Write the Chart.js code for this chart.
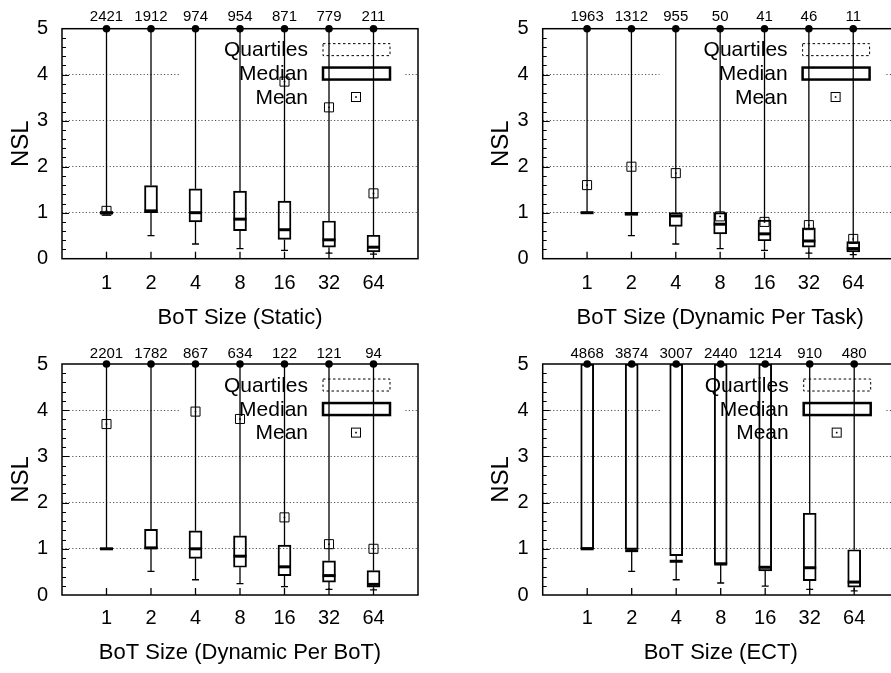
<!DOCTYPE html>
<html>
<head>
<meta charset="utf-8">
<script src="https://cdn.jsdelivr.net/npm/chart.js@4.4.1/dist/chart.umd.min.js"></script>
<style>
  html, body { margin: 0; padding: 0; background: #fff; overflow: hidden; width: 891px; height: 673px; }
  body { position: relative; }
  canvas { position: absolute; }
</style>
</head>
<body>
<canvas id="pStatic" width="445" height="330" style="left:0;top:0"></canvas>
<canvas id="pTask" width="460" height="330" style="left:445px;top:0"></canvas>
<canvas id="pBot" width="445" height="343" style="left:0;top:330px"></canvas>
<canvas id="pEct" width="460" height="343" style="left:445px;top:330px"></canvas>
<script>
// BoT sizes on the x axis
const botSizes = ['1', '2', '4', '8', '16', '32', '64'];
const nslMax = 5;
const keyLabels = ['Quartiles', 'Median', 'Mean'];

// Static
const staticCount  = [2421, 1912, 974, 954, 871, 779, 211];
const staticLow    = [0.97, 0.50, 0.32, 0.22, 0.18, 0.12, 0.10];
const staticQ1     = [0.97, 1.00, 0.80, 0.61, 0.42, 0.25, 0.15];
const staticMedian = [1.00, 1.04, 1.00, 0.86, 0.63, 0.41, 0.25];
const staticQ3     = [1.02, 1.59, 1.52, 1.47, 1.25, 0.82, 0.51];
const staticMean   = [1.04, null, null, null, 3.85, 3.29, 1.42];

// Dynamic per task
const taskCount  = [1963, 1312, 955, 50, 41, 46, 11];
const taskLow    = [1.00, 0.50, 0.32, 0.22, 0.18, 0.12, 0.09];
const taskQ1     = [1.00, 0.94, 0.70, 0.54, 0.39, 0.25, 0.15];
const taskMedian = [1.00, 0.98, 0.93, 0.75, 0.54, 0.385, 0.22];
const taskQ3     = [1.00, 1.01, 1.00, 1.00, 0.84, 0.67, 0.37];
const taskMean   = [1.60, 2.00, 1.86, 0.92, 0.80, 0.73, 0.43];

// Dynamic per BoT
const botCount  = [2201, 1782, 867, 634, 122, 121, 94];
const botLow    = [1.00, 0.51, 0.33, 0.245, 0.18, 0.12, 0.11];
const botQ1     = [1.00, 1.00, 0.79, 0.60, 0.42, 0.28, 0.17];
const botMedian = [1.00, 1.02, 1.00, 0.84, 0.61, 0.42, 0.23];
const botQ3     = [1.00, 1.42, 1.39, 1.28, 1.08, 0.74, 0.53];
const botMean   = [3.70, null, 3.97, 3.81, 1.68, 1.10, 1.00];

// ECT
const ectCount  = [4868, 3874, 3007, 2440, 1214, 910, 480];
const ectLow    = [1.00, 0.51, 0.33, 0.26, 0.19, 0.12, 0.09];
const ectQ1     = [1.00, 0.99, 0.85, 0.67, 0.52, 0.31, 0.17];
const ectMedian = [1.00, 0.96, 0.73, 0.67, 0.60, 0.59, 0.28];
const ectQ3     = [5.00, 5.00, 5.00, 5.00, 5.00, 1.77, 0.98];
const ectMean   = [null, null, null, null, null, null, null];

const FONT = '"Liberation Sans", Arial, Helvetica, sans-serif';
Chart.defaults.font.family = FONT;
Chart.defaults.color = '#000';

const BOX_INDEX = 3;

// Whiskers, medians, frame, inner ticks, key and sample counts
const boxPlot = {
  id: 'boxPlot',
  beforeDatasetsDraw(chart) {
    const o = chart.options.plugins.boxPlot;
    const { ctx, chartArea: a, scales: { x, y } } = chart;
    const h = a.bottom - a.top;
    ctx.save();

    // key background hides the grid line behind it
    ctx.fillStyle = '#fff';
    ctx.fillRect(a.right - 238, a.top + 8, 225, 74);

    const rows = [0.091, 0.195, 0.297].map(f => a.top + f * h);
    ctx.fillStyle = '#000';
    ctx.font = '21px ' + FONT;
    ctx.textAlign = 'right';
    ctx.textBaseline = 'middle';
    keyLabels.forEach((t, i) => ctx.fillText(t, a.right - 110, rows[i] + 1));
    ctx.strokeStyle = '#000';
    ctx.lineWidth = 1;
    ctx.setLineDash([2.5, 2.5]);
    ctx.strokeRect(a.right - 95, rows[0] - 6, 67, 12);
    ctx.setLineDash([]);
    ctx.lineWidth = 2.5;
    ctx.strokeRect(a.right - 95, rows[1] - 6, 67, 12);
    ctx.lineWidth = 1;
    ctx.strokeRect(a.right - 62 - 4.5, rows[2] - 4.5, 9, 9);
    ctx.fillRect(a.right - 62 - 0.8, rows[2] - 0.8, 1.6, 1.6);

    // frame
    ctx.lineWidth = 1.5;
    ctx.strokeRect(a.left, a.top, a.right - a.left, a.bottom - a.top);

    // inner y ticks: minor every 0.2, major at integers
    ctx.lineWidth = 1;
    for (let k = 1; k < nslMax * 5; k++) {
      const py = Math.round(y.getPixelForValue(k / 5)) + 0.5;
      const len = k % 5 === 0 ? 7 : 4;
      ctx.beginPath();
      ctx.moveTo(a.left, py);
      ctx.lineTo(a.left + len, py);
      ctx.stroke();
    }
    // inner x ticks
    ctx.lineWidth = 1.3;
    botSizes.forEach((_, i) => {
      const px = x.getPixelForValue(i + 1);
      ctx.beginPath();
      ctx.moveTo(px, a.bottom);
      ctx.lineTo(px, a.bottom - 7);
      ctx.stroke();
    });

    // whiskers: lower one ends in a cap, upper one runs off the top
    ctx.lineWidth = 1.3;
    o.low.forEach((v, i) => {
      const px = x.getPixelForValue(i + 1);
      const pLow = y.getPixelForValue(v);
      const pQ1 = y.getPixelForValue(o.q1[i]);
      const pQ3 = y.getPixelForValue(o.q3[i]);
      const pTop = y.getPixelForValue(nslMax);
      ctx.beginPath();
      ctx.moveTo(px, pLow);
      ctx.lineTo(px, pQ1);
      if (pQ3 > pTop) {
        ctx.moveTo(px, pQ3);
        ctx.lineTo(px, pTop);
      }
      ctx.moveTo(px - 3.5, pLow);
      ctx.lineTo(px + 3.5, pLow);
      ctx.stroke();
    });
    ctx.restore();
  },
  afterDatasetDraw(chart, args) {
    if (args.index !== BOX_INDEX) return;
    const o = chart.options.plugins.boxPlot;
    const { ctx, scales: { x, y } } = chart;
    ctx.save();
    ctx.strokeStyle = '#000';
    ctx.lineWidth = 3;
    o.median.forEach((v, i) => {
      const px = x.getPixelForValue(i + 1);
      const py = y.getPixelForValue(v);
      ctx.beginPath();
      ctx.moveTo(px - 6.5, py);
      ctx.lineTo(px + 6.5, py);
      ctx.stroke();
    });
    ctx.restore();
  },
  afterDraw(chart) {
    const o = chart.options.plugins.boxPlot;
    const { ctx, chartArea: a, scales: { x } } = chart;
    ctx.save();
    ctx.fillStyle = '#000';
    ctx.font = '15px ' + FONT;
    ctx.textAlign = 'center';
    ctx.textBaseline = 'middle';
    o.counts.forEach((c, i) => {
      ctx.fillText(String(c), x.getPixelForValue(i + 1), a.top - o.countGap);
    });
    ctx.restore();
  }
};

function makePanel(id, title, counts, low, q1, median, q3, mean, geo) {
  const cv = document.getElementById(id);
  const W = cv.width, H = cv.height;
  const pts = arr => arr.map((v, i) => (v === null ? null : { x: i + 1, y: v })).filter(p => p);
  return new Chart(cv, {
    type: 'bar',
    data: {
      datasets: [
        { // markers where the whiskers leave the top of the range
          type: 'scatter',
          data: counts.map((_, i) => ({ x: i + 1, y: nslMax })),
          pointRadius: 3.8, pointStyle: 'circle',
          backgroundColor: '#000', borderWidth: 0, clip: false
        },
        { // centre dot of the mean marker
          type: 'scatter',
          data: pts(mean),
          pointRadius: 0.9, backgroundColor: '#000', borderWidth: 0
        },
        { // mean
          type: 'scatter',
          data: pts(mean),
          pointStyle: 'rect', pointRadius: 6.4,
          backgroundColor: 'rgba(0,0,0,0)', borderColor: '#000', borderWidth: 1
        },
        { // interquartile box
          type: 'bar',
          data: q1.map((v, i) => ({ x: i + 1, y: [v, q3[i]] })),
          barThickness: 13,
          backgroundColor: 'rgba(0,0,0,0)', borderColor: '#000', borderWidth: 1.3,
          borderSkipped: false
        }
      ]
    },
    options: {
      responsive: false,
      animation: false,
      devicePixelRatio: 1,
      events: [],
      layout: { padding: { left: 0, top: geo.top, right: W - geo.right, bottom: 0 } },
      plugins: {
        legend: { display: false },
        tooltip: { enabled: false },
        boxPlot: { counts, low, q1, q3, median, countGap: geo.countGap }
      },
      scales: {
        x: {
          type: 'linear', min: 0, max: 8, offset: false,
          afterBuildTicks: s => { s.ticks = botSizes.map((_, i) => ({ value: i + 1 })); },
          afterFit: s => { s.height = H - geo.bottom; },
          ticks: {
            autoSkip: false, maxRotation: 0, padding: geo.xTickPad,
            font: { size: 20 }, color: '#000',
            callback: v => botSizes[v - 1]
          },
          grid: { display: false, drawTicks: false },
          border: { display: false },
          title: {
            display: true, text: title, color: '#000',
            font: { size: 22, lineHeight: 1 },
            padding: { top: 0, bottom: geo.xTitlePad }
          }
        },
        y: {
          min: 0, max: nslMax,
          afterFit: s => { s.width = geo.left; },
          ticks: { stepSize: 1, padding: 14, font: { size: 20 }, color: '#000' },
          grid: {
            drawTicks: false, lineWidth: 1,
            color: c => (c.tick.value > 0 && c.tick.value < nslMax ? '#555' : 'rgba(0,0,0,0)')
          },
          border: { display: false, dash: [1.2, 2.2] },
          title: {
            display: true, text: 'NSL', color: '#000',
            font: { size: 24, lineHeight: 1 },
            padding: { top: geo.yTitlePad, bottom: 0 }
          }
        }
      }
    },
    plugins: [boxPlot]
  });
}

makePanel('pStatic', 'BoT Size (Static)', staticCount, staticLow, staticQ1, staticMedian, staticQ3, staticMean,
  { left: 62, right: 418, top: 28.7, bottom: 258.7, countGap: 11.4, xTickPad: 12.6, xTitlePad: 0.7, yTitlePad: 9.7 });
makePanel('pTask', 'BoT Size (Dynamic Per Task)', taskCount, taskLow, taskQ1, taskMedian, taskQ3, taskMean,
  { left: 97.7, right: 453.7, top: 28.7, bottom: 258.7, countGap: 11.4, xTickPad: 12.6, xTitlePad: 0.7, yTitlePad: 44.7 });
makePanel('pBot', 'BoT Size (Dynamic Per BoT)', botCount, botLow, botQ1, botMedian, botQ3, botMean,
  { left: 62, right: 418, top: 34, bottom: 265, countGap: 10.5, xTickPad: 11.3, xTitlePad: 8.7, yTitlePad: 9.7 });
makePanel('pEct', 'BoT Size (ECT)', ectCount, ectLow, ectQ1, ectMedian, ectQ3, ectMean,
  { left: 97.7, right: 453.7, top: 34, bottom: 265, countGap: 10.5, xTickPad: 11.3, xTitlePad: 8.7, yTitlePad: 44.7 });
</script>
</body>
</html>
